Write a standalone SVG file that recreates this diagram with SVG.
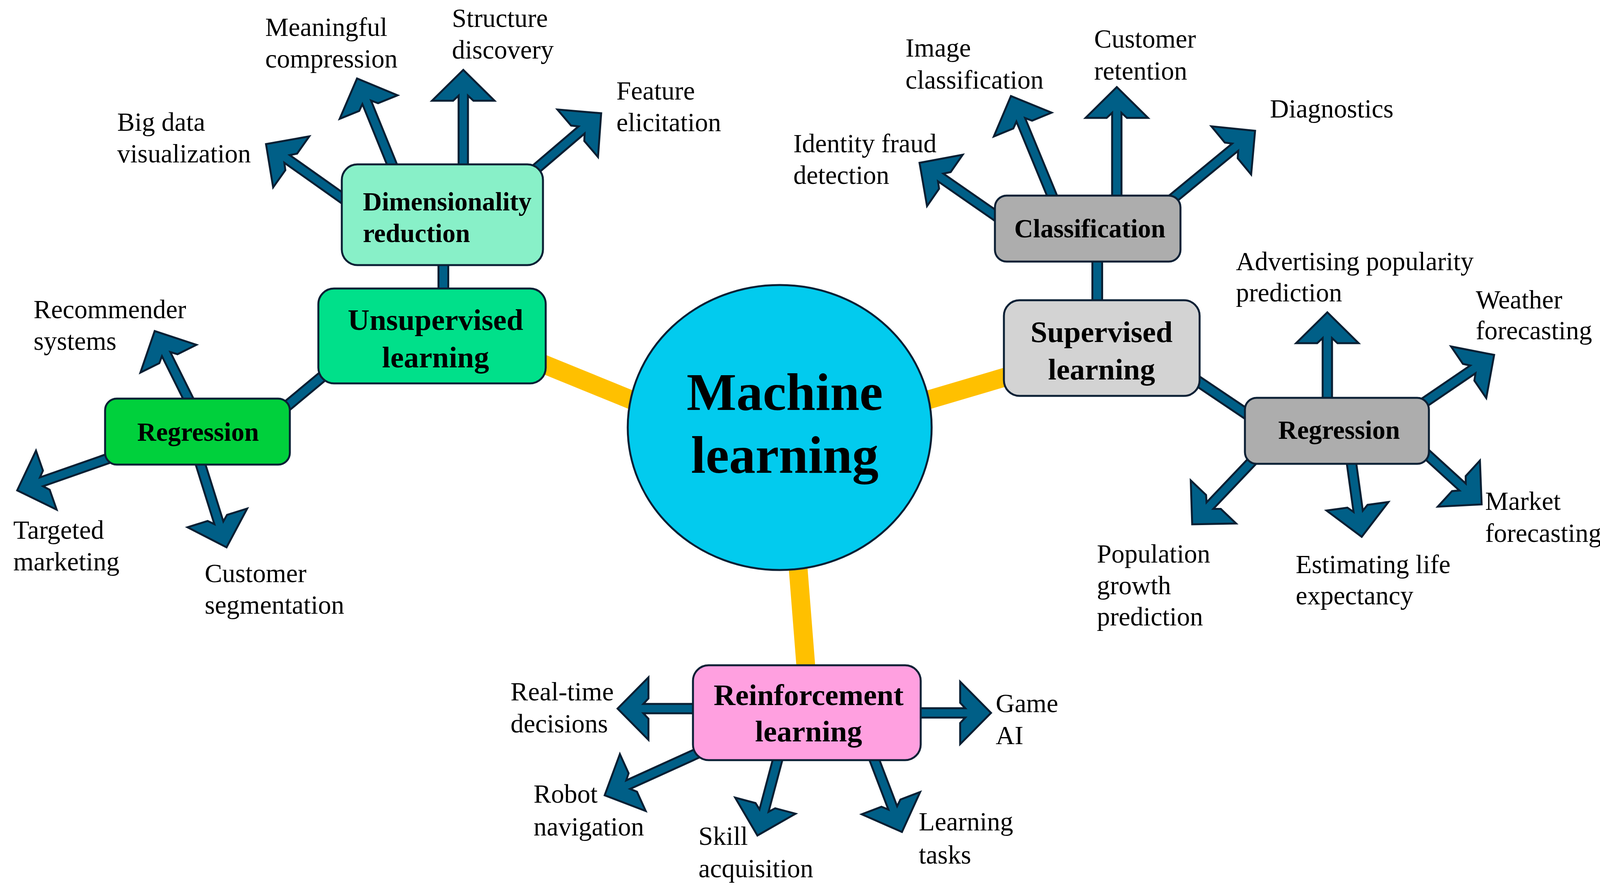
<svg xmlns="http://www.w3.org/2000/svg" width="4201" height="2295" viewBox="0 0 4201 2295">
<style>
.lbl{font-family:"Liberation Serif","Times New Roman",serif;font-size:67px;fill:#000}
.nb{font-family:"Liberation Serif","Times New Roman",serif;font-weight:bold;fill:#000}
.sub{font-size:67px}
.main{font-size:77px}
.box{stroke:#0B2035;stroke-width:5}
.arr{fill:#005F87;stroke:#0A1F33;stroke-width:5;stroke-linejoin:miter;stroke-miterlimit:8}
.yel{stroke:#FFC000;stroke-width:48;fill:none}
.cO{stroke:#0A1F33;stroke-width:30;fill:none}
.cI{stroke:#005F87;stroke-width:20;fill:none}
</style>
<rect width="4201" height="2295" fill="#fff"/>
<g id="connectors">
<line class="yel" x1="1380" y1="928" x2="1640" y2="1034"/>
<line class="yel" x1="2360" y1="1029" x2="2590" y2="961"/>
<line class="yel" x1="2042" y1="1440" x2="2064" y2="1720"/>
<line class="cO" x1="1135" y1="660" x2="1135" y2="760"/>
<line class="cI" x1="1135" y1="660" x2="1135" y2="760"/>
<line class="cO" x1="720" y1="1052" x2="845" y2="948"/>
<line class="cI" x1="720" y1="1052" x2="845" y2="948"/>
<line class="cO" x1="2809" y1="650" x2="2809" y2="790"/>
<line class="cI" x1="2809" y1="650" x2="2809" y2="790"/>
<line class="cO" x1="3045" y1="962" x2="3210" y2="1073"/>
<line class="cI" x1="3045" y1="962" x2="3210" y2="1073"/>
<path class="arr" transform="translate(681 369) rotate(215.3)" d="M-264,-12 H-66 L-79,-26 L-79,-80 L0,0 L-79,80 L-79,26 L-66,12 H-264 Z"/>
<path class="arr" transform="translate(914 201) rotate(247.9)" d="M-266,-12 H-66 L-79,-26 L-79,-80 L0,0 L-79,80 L-79,26 L-66,12 H-266 Z"/>
<path class="arr" transform="translate(1186 179) rotate(-90)" d="M-271,-12 H-66 L-79,-26 L-79,-80 L0,0 L-79,80 L-79,26 L-66,12 H-271 Z"/>
<path class="arr" transform="translate(1539 290) rotate(-40.5)" d="M-246,-12 H-66 L-79,-26 L-79,-80 L0,0 L-79,80 L-79,26 L-66,12 H-246 Z"/>
<path class="arr" transform="translate(396 848) rotate(243.6)" d="M-223,-12 H-66 L-79,-26 L-79,-80 L0,0 L-79,80 L-79,26 L-66,12 H-223 Z"/>
<path class="arr" transform="translate(44 1256) rotate(160.7)" d="M-272,-12 H-66 L-79,-26 L-79,-80 L0,0 L-79,80 L-79,26 L-66,12 H-272 Z"/>
<path class="arr" transform="translate(580 1402) rotate(72.6)" d="M-251,-12 H-66 L-79,-26 L-79,-80 L0,0 L-79,80 L-79,26 L-66,12 H-251 Z"/>
<path class="arr" transform="translate(2354 417) rotate(214.8)" d="M-265,-12 H-66 L-79,-26 L-79,-80 L0,0 L-79,80 L-79,26 L-66,12 H-265 Z"/>
<path class="arr" transform="translate(2588 246) rotate(247.6)" d="M-306,-12 H-66 L-79,-26 L-79,-80 L0,0 L-79,80 L-79,26 L-66,12 H-306 Z"/>
<path class="arr" transform="translate(2859 223) rotate(-90)" d="M-308,-12 H-66 L-79,-26 L-79,-80 L0,0 L-79,80 L-79,26 L-66,12 H-308 Z"/>
<path class="arr" transform="translate(3213 335) rotate(-39.5)" d="M-303,-12 H-66 L-79,-26 L-79,-80 L0,0 L-79,80 L-79,26 L-66,12 H-303 Z"/>
<path class="arr" transform="translate(3398 800) rotate(-90)" d="M-249,-12 H-66 L-79,-26 L-79,-80 L0,0 L-79,80 L-79,26 L-66,12 H-249 Z"/>
<path class="arr" transform="translate(3825 909) rotate(-34.3)" d="M-239,-12 H-66 L-79,-26 L-79,-80 L0,0 L-79,80 L-79,26 L-66,12 H-239 Z"/>
<path class="arr" transform="translate(3793 1292) rotate(42.4)" d="M-217,-12 H-66 L-79,-26 L-79,-80 L0,0 L-79,80 L-79,26 L-66,12 H-217 Z"/>
<path class="arr" transform="translate(3486 1375) rotate(82.1)" d="M-219,-12 H-66 L-79,-26 L-79,-80 L0,0 L-79,80 L-79,26 L-66,12 H-219 Z"/>
<path class="arr" transform="translate(3052 1343) rotate(133.5)" d="M-252,-12 H-66 L-79,-26 L-79,-80 L0,0 L-79,80 L-79,26 L-66,12 H-252 Z"/>
<path class="arr" transform="translate(1581 1815) rotate(180)" d="M-223,-12 H-66 L-79,-26 L-79,-80 L0,0 L-79,80 L-79,26 L-66,12 H-223 Z"/>
<path class="arr" transform="translate(2537 1826) rotate(0)" d="M-210,-12 H-66 L-79,-26 L-79,-80 L0,0 L-79,80 L-79,26 L-66,12 H-210 Z"/>
<path class="arr" transform="translate(1548 2037) rotate(155.6)" d="M-289,-12 H-66 L-79,-26 L-79,-80 L0,0 L-79,80 L-79,26 L-66,12 H-289 Z"/>
<path class="arr" transform="translate(1939 2140) rotate(104.9)" d="M-229,-12 H-66 L-79,-26 L-79,-80 L0,0 L-79,80 L-79,26 L-66,12 H-229 Z"/>
<path class="arr" transform="translate(2309 2131) rotate(69.1)" d="M-226,-12 H-66 L-79,-26 L-79,-80 L0,0 L-79,80 L-79,26 L-66,12 H-226 Z"/>
</g>
<g id="ml">
<ellipse class="box" cx="1996" cy="1095" rx="389" ry="365" fill="#02CBEE"/>
<text class="nb" x="2009" y="1050" font-size="135" text-anchor="middle">Machine</text>
<text class="nb" x="2009" y="1211" font-size="135" text-anchor="middle">learning</text>
</g>
<g id="unsupervised">
<rect class="box" x="815" y="739" width="582" height="243" rx="40" fill="#00E08A"/>
<text class="nb main" x="1115" y="845" text-anchor="middle">Unsupervised</text>
<text class="nb main" x="1115" y="941" text-anchor="middle">learning</text>
</g>
<g id="dimred">
<rect class="box" x="875" y="421" width="515" height="258" rx="40" fill="#88F0C8"/>
<text class="nb sub" x="929" y="539">Dimensionality</text>
<text class="nb sub" x="929" y="620">reduction</text>
</g>
<g id="regression-left">
<rect class="box" x="269" y="1021" width="473" height="169" rx="30" fill="#00D03C"/>
<text class="nb sub" x="507" y="1129" text-anchor="middle">Regression</text>
</g>
<g id="supervised">
<rect class="box" x="2570" y="769" width="501" height="245" rx="40" fill="#D3D3D3"/>
<text class="nb main" x="2820" y="876" text-anchor="middle">Supervised</text>
<text class="nb main" x="2820" y="972" text-anchor="middle">learning</text>
</g>
<g id="classification">
<rect class="box" x="2547" y="501" width="475" height="169" rx="30" fill="#ADADAD"/>
<text class="nb sub" x="2790" y="608" text-anchor="middle">Classification</text>
</g>
<g id="regression-right">
<rect class="box" x="3187" y="1019" width="471" height="169" rx="30" fill="#ADADAD"/>
<text class="nb sub" x="3428" y="1124" text-anchor="middle">Regression</text>
</g>
<g id="reinforcement">
<rect class="box" x="1774" y="1704" width="583" height="243" rx="40" fill="#FFA0E0"/>
<text class="nb main" x="2070" y="1806" text-anchor="middle">Reinforcement</text>
<text class="nb main" x="2070" y="1899" text-anchor="middle">learning</text>
</g>
<g id="labels">
<text class="lbl" x="679" y="92">Meaningful<tspan x="679" y="173">compression</tspan></text>
<text class="lbl" x="1157" y="69">Structure<tspan x="1157" y="150">discovery</tspan></text>
<text class="lbl" x="1578" y="255">Feature<tspan x="1578" y="336">elicitation</tspan></text>
<text class="lbl" x="300" y="335">Big data<tspan x="300" y="416">visualization</tspan></text>
<text class="lbl" x="86" y="815">Recommender<tspan x="86" y="896">systems</tspan></text>
<text class="lbl" x="34" y="1380">Targeted<tspan x="34" y="1461">marketing</tspan></text>
<text class="lbl" x="524" y="1491">Customer<tspan x="524" y="1572">segmentation</tspan></text>
<text class="lbl" x="2318" y="145">Image<tspan x="2318" y="227">classification</tspan></text>
<text class="lbl" x="2801" y="122">Customer<tspan x="2801" y="204">retention</tspan></text>
<text class="lbl" x="2031" y="390">Identity fraud<tspan x="2031" y="471">detection</tspan></text>
<text class="lbl" x="3251" y="301">Diagnostics</text>
<text class="lbl" x="3164" y="692">Advertising popularity<tspan x="3164" y="772">prediction</tspan></text>
<text class="lbl" x="3778" y="790" font-size="62">Weather<tspan x="3778" y="869">forecasting</tspan></text>
<text class="lbl" x="3802" y="1306" font-size="59">Market<tspan x="3802" y="1388">forecasting</tspan></text>
<text class="lbl" x="3317" y="1468">Estimating life<tspan x="3317" y="1548">expectancy</tspan></text>
<text class="lbl" x="2808" y="1441">Population<tspan x="2808" y="1522">growth</tspan><tspan x="2808" y="1602">prediction</tspan></text>
<text class="lbl" x="1307" y="1794">Real-time<tspan x="1307" y="1876">decisions</tspan></text>
<text class="lbl" x="2549" y="1824">Game<tspan x="2549" y="1906">AI</tspan></text>
<text class="lbl" x="1366" y="2056">Robot<tspan x="1366" y="2140">navigation</tspan></text>
<text class="lbl" x="1788" y="2164">Skill<tspan x="1788" y="2247">acquisition</tspan></text>
<text class="lbl" x="2352" y="2127">Learning<tspan x="2352" y="2212">tasks</tspan></text>
</g>
</svg>
